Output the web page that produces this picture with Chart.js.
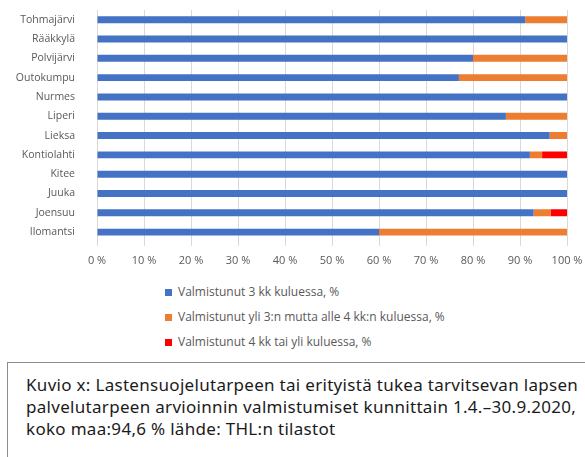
<!DOCTYPE html>
<html>
<head>
<meta charset="utf-8">
<script src="https://cdn.jsdelivr.net/npm/chart.js@4"></script>
<style>
  body { margin: 0; background: #fff; width: 585px; height: 457px; overflow: hidden; position: relative; font-family: "Open Sans", "Noto Sans", sans-serif; }
  #wrap { position: absolute; left: 0; top: 0; width: 585px; height: 275px; }
  #legend { position: absolute; left: 165px; top: 282px; font-size: 12px; color: #595959; }
  #legend div { height: 25px; line-height: 20px; white-space: nowrap; }
  #legend span { display: inline-block; width: 7px; height: 7px; margin-right: 6px; vertical-align: 0px; }
  #caption { position: absolute; left: 7px; top: 362px; width: 600px; height: 120px; border: 1px solid #8c8c8c; box-sizing: border-box; padding: 11px 0 0 18px; font-size: 17px; letter-spacing: 0.3px; line-height: 22px; color: #1b1b1b; white-space: nowrap; font-family: "Noto Sans", sans-serif; }
</style>
</head>
<body>
<div id="wrap"><canvas id="chart"></canvas></div>
<div id="legend"></div>
<div id="caption">Kuvio x: Lastensuojelutarpeen tai erityistä tukea tarvitsevan lapsen<br>palvelutarpeen arvioinnin valmistumiset kunnittain 1.4.–30.9.2020,<br>koko maa:94,6 % lähde: THL:n tilastot</div>
<script>
const categories = ['Tohmajärvi', 'Rääkkylä', 'Polvijärvi', 'Outokumpu', 'Nurmes', 'Liperi', 'Lieksa', 'Kontiolahti', 'Kitee', 'Juuka', 'Joensuu', 'Ilomantsi'];
const within3 = [91.1, 100, 80, 77, 100, 87, 96.3, 92.1, 100, 100, 92.9, 60];
const within3to4 = [8.9, 0, 20, 23, 0, 13, 3.7, 2.6, 0, 0, 3.6, 40];
const over4 = [0, 0, 0, 0, 0, 0, 0, 5.3, 0, 0, 3.5, 0];
const seriesNames = ['Valmistunut 3 kk kuluessa, %', 'Valmistunut yli 3:n mutta alle 4 kk:n kuluessa, %', 'Valmistunut 4 kk tai yli kuluessa, %'];
const tickValues = [0, 10, 20, 30, 40, 50, 60, 70, 80, 90, 100];

const colors = ['#4472C4', '#ED7D31', '#FF0000'];
const tickFont = { family: '"Open Sans", "Noto Sans", sans-serif', size: 11 };

const chart = new Chart(document.getElementById('chart'), {
  type: 'bar',
  data: {
    labels: categories,
    datasets: [within3, within3to4, over4].map((d, i) => ({
      label: seriesNames[i],
      data: d,
      backgroundColor: colors[i],
      borderWidth: 0,
      barPercentage: 0.36,
      categoryPercentage: 1
    }))
  },
  options: {
    indexAxis: 'y',
    responsive: true,
    maintainAspectRatio: false,
    animation: false,
    layout: { padding: { top: 10, right: 18, bottom: 0, left: 0 } },
    plugins: { legend: { display: false }, tooltip: { enabled: false } },
    scales: {
      x: {
        stacked: true,
        min: 0,
        max: 100,
        afterBuildTicks: (scale) => { scale.ticks = tickValues.map(v => ({ value: v })); },
        afterFit: (scale) => { scale.paddingLeft = 0; scale.paddingRight = 0; },
        ticks: { color: '#595959', font: tickFont, padding: 8, callback: v => v + ' %' },
        grid: { color: '#D9D9D9', tickLength: 4 },
        border: { display: false }
      },
      y: {
        stacked: true,
        afterFit: (scale) => { scale.width = 97; scale.paddingTop = 0; scale.paddingBottom = 0; },
        ticks: { color: '#595959', font: { family: tickFont.family, size: 10.5 }, padding: 14 },
        grid: { display: false },
        border: { display: false }
      }
    }
  }
});

document.getElementById('legend').innerHTML = chart.data.datasets
  .map(ds => '<div><span style="background:' + ds.backgroundColor + '"></span>' + ds.label + '</div>')
  .join('');
</script>
</body>
</html>
